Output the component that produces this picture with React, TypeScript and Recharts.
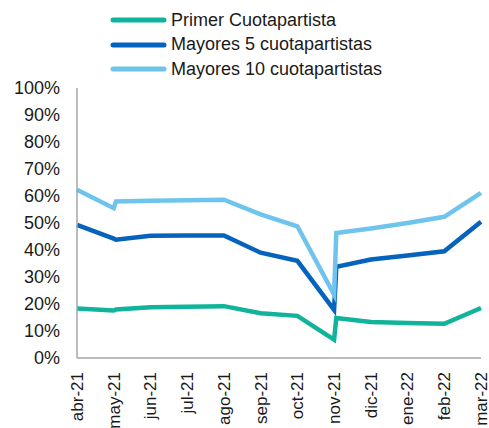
import React from 'react';
import { LineChart, Line, XAxis, YAxis, Legend } from 'recharts';

const monthLabels = ['abr-21', 'may-21', 'jun-21', 'jul-21', 'ago-21', 'sep-21', 'oct-21', 'nov-21', 'dic-21', 'ene-22', 'feb-22', 'mar-22'];

// position on the month axis (0 = abr-21); the .06 points are the jumps right after a month end
const xPos = [0, 1, 1.06, 2, 3, 4, 5, 6, 7, 7.06, 8, 9, 10, 11];
const primer = [18.3, 17.6, 18.0, 18.8, 19.0, 19.2, 16.6, 15.6, 6.8, 14.8, 13.3, 13.0, 12.7, 18.5];
const mayores5 = [49.3, 44.2, 43.8, 45.3, 45.4, 45.4, 39.0, 36.0, 17.8, 33.8, 36.5, 38.0, 39.5, 50.5];
const mayores10 = [62.3, 55.5, 58.0, 58.2, 58.4, 58.6, 53.2, 48.8, 23.5, 46.3, 48.0, 50.0, 52.3, 61.2];

const yTicks = [0, 10, 20, 30, 40, 50, 60, 70, 80, 90, 100];

const series = [
  { key: 'primer', name: 'Primer Cuotapartista', color: '#10b49b' },
  { key: 'mayores5', name: 'Mayores 5 cuotapartistas', color: '#0563be' },
  { key: 'mayores10', name: 'Mayores 10 cuotapartistas', color: '#6ec4ec' },
];

const data = xPos.map((x, i) => ({
  x,
  primer: primer[i],
  mayores5: mayores5[i],
  mayores10: mayores10[i],
}));

const FONT = '"Liberation Sans", Arial, sans-serif';

const MonthTick = (props: any) => {
  const { x, y, payload } = props;
  return (
    <g transform={`translate(${x},${y})`}>
      <text transform="rotate(-90)" textAnchor="end" dy="0.35em" fill="#1a1a1a" fontSize={17} fontFamily={FONT}>
        {monthLabels[payload.value]}
      </text>
    </g>
  );
};

const LegendBox = () => (
  <div style={{ height: 74, fontFamily: FONT, fontSize: 18, color: '#1a1a1a' }}>
    {series.map((s) => (
      <div key={s.key} style={{ display: 'flex', alignItems: 'center', height: 24.5 }}>
        <svg width={58} height={8} style={{ marginLeft: 110 }}>
          <line x1={3} y1={4} x2={54} y2={4} stroke={s.color} strokeWidth={5} strokeLinecap="round" />
        </svg>
        <span style={{ marginLeft: 3, whiteSpace: 'nowrap' }}>{s.name}</span>
      </div>
    ))}
  </div>
);

export default function App() {
  return (
    <div style={{ position: 'absolute', left: 0, top: 0, background: '#fff' }}>
      <LineChart width={489} height={428} data={data} margin={{ top: 14, right: 8, bottom: 0, left: 0 }}>
        <Legend
          verticalAlign="top"
          align="left"
          content={<LegendBox />}
          wrapperStyle={{ top: 8, left: 0, width: 489 }}
        />
        <XAxis
          dataKey="x"
          type="number"
          domain={[0, 11]}
          ticks={monthLabels.map((_, i) => i)}
          interval={0}
          height={70}
          tick={<MonthTick />}
          tickLine={false}
          tickMargin={8}
          axisLine={{ stroke: '#a6a6a6', strokeWidth: 1.5 }}
        />
        <YAxis
          type="number"
          domain={[0, 100]}
          ticks={yTicks}
          width={77}
          tickFormatter={(v) => `${v}%`}
          tick={{ fill: '#1a1a1a', fontSize: 18, fontFamily: FONT }}
          tickLine={false}
          tickMargin={11}
          axisLine={{ stroke: '#a6a6a6', strokeWidth: 1.5 }}
        />
        {series.map((s) => (
          <Line
            key={s.key}
            dataKey={s.key}
            name={s.name}
            stroke={s.color}
            strokeWidth={4.5}
            dot={false}
            activeDot={false}
            type="linear"
            isAnimationActive={false}
          />
        ))}
      </LineChart>
    </div>
  );
}
